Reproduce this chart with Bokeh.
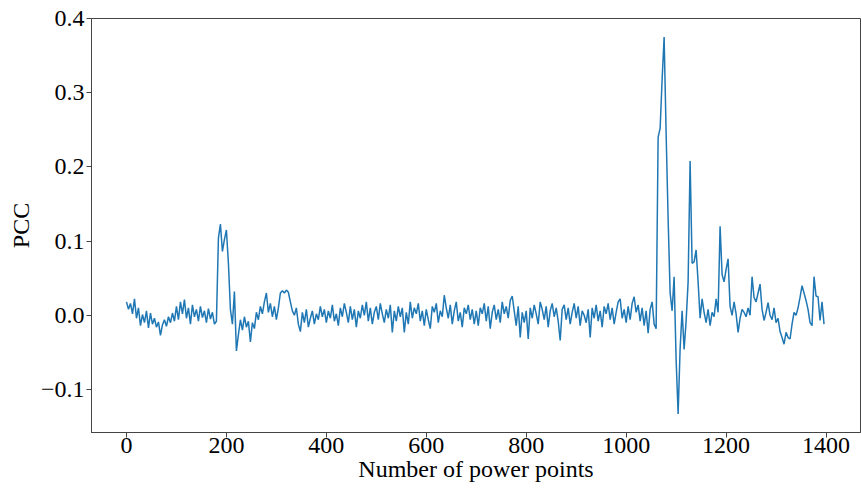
from bokeh.plotting import figure
from bokeh.models import Range1d, FixedTicker
from bokeh.embed import file_html
from bokeh.resources import INLINE

# Sample index of each PCC value (every 4th power point)
power_points = list(range(0, 1400, 4))

# PCC values (one row = 100 power points)
pcc = [
    0.018, 0.008, 0.016, 0.002, 0.022, -0.004, 0.010, -0.014, 0.001, -0.010, 0.006, -0.017, 0.003, -0.012, -0.004, -0.016, -0.009, -0.027, -0.013, -0.006, -0.015, -0.002, -0.010, 0.003, -0.008,
    0.012, -0.006, 0.018, 0.002, 0.021, -0.004, 0.010, -0.012, 0.014, -0.002, 0.008, -0.008, 0.012, -0.003, 0.006, -0.010, 0.009, -0.005, 0.004, -0.012, -0.008, 0.104, 0.123, 0.086, 0.102,
    0.115, 0.070, 0.008, -0.012, 0.032, -0.048, -0.026, -0.006, -0.020, -0.002, -0.016, -0.008, -0.036, -0.010, -0.018, 0.004, -0.006, 0.012, 0.002, 0.018, 0.030, 0.004, 0.016, -0.002, 0.012,
    -0.006, 0.010, 0.030, 0.033, 0.030, 0.034, 0.031, 0.018, 0.006, 0.000, 0.010, -0.012, -0.022, 0.004, -0.010, 0.008, -0.016, -0.004, 0.006, -0.012, 0.002, -0.006, 0.012, -0.002, 0.008,
    -0.010, 0.006, -0.004, 0.014, -0.008, 0.002, -0.014, 0.010, -0.002, 0.016, 0.004, -0.010, 0.012, -0.006, 0.008, -0.016, 0.006, -0.004, 0.014, 0.000, 0.018, -0.008, 0.010, -0.012, 0.004,
    0.012, -0.006, 0.016, 0.002, -0.010, 0.008, -0.004, 0.014, -0.023, 0.006, -0.008, 0.012, -0.002, 0.010, -0.023, 0.004, -0.012, 0.018, -0.004, 0.010, 0.002, 0.016, -0.008, 0.006, -0.014,
    0.008, -0.006, -0.018, 0.012, 0.004, 0.016, -0.010, 0.006, -0.002, 0.027, 0.010, -0.004, 0.014, -0.012, 0.006, 0.018, -0.008, 0.004, -0.016, 0.010, 0.002, 0.014, -0.006, 0.008, -0.012,
    0.006, -0.014, 0.010, 0.002, 0.016, -0.008, 0.012, -0.018, 0.004, 0.014, -0.006, 0.008, -0.010, 0.018, 0.002, 0.012, -0.004, 0.020, 0.026, 0.006, -0.014, 0.012, -0.030, 0.004, -0.010,
    0.006, -0.032, 0.010, -0.004, 0.014, 0.002, -0.012, 0.018, 0.008, -0.006, 0.012, -0.016, 0.006, 0.016, -0.002, 0.010, -0.008, -0.034, 0.008, 0.014, -0.006, 0.010, -0.012, 0.004, 0.016,
    -0.004, 0.012, -0.014, 0.006, 0.000, -0.010, 0.008, -0.030, 0.010, -0.004, 0.014, -0.008, 0.006, -0.016, 0.012, 0.002, 0.016, -0.006, 0.010, -0.012, 0.004, 0.018, 0.022, -0.004, 0.008,
    -0.010, 0.012, -0.006, 0.016, 0.025, 0.004, 0.014, -0.008, 0.010, -0.014, 0.006, -0.024, 0.008, 0.018, -0.012, -0.018, 0.240, 0.252, 0.318, 0.375, 0.245, 0.130, 0.030, 0.006, 0.052,
    -0.060, -0.133, -0.045, 0.006, -0.046, -0.008, 0.045, 0.208, 0.070, 0.072, 0.088, 0.045, -0.004, 0.022, 0.004, -0.010, 0.008, -0.014, 0.004, -0.002, 0.022, 0.004, 0.120, 0.055, 0.045,
    0.062, 0.076, 0.012, 0.000, 0.018, 0.002, -0.023, -0.004, 0.008, 0.004, -0.002, 0.010, 0.000, 0.052, 0.024, 0.018, 0.030, 0.042, 0.008, -0.007, 0.004, 0.017, 0.000, -0.006, 0.010,
    -0.010, -0.004, -0.022, -0.030, -0.039, -0.023, -0.030, -0.032, -0.012, 0.004, 0.000, 0.010, 0.024, 0.040, 0.030, 0.020, 0.008, -0.010, -0.014, 0.052, 0.026, 0.025, -0.007, 0.018, -0.012,
]

x_ticks = [0, 200, 400, 600, 800, 1000, 1200, 1400]
y_ticks = [-0.1, 0.0, 0.1, 0.2, 0.3, 0.4]
y_tick_labels = ["\u22120.1", "0.0", "0.1", "0.2", "0.3", "0.4"]

FONT = "Liberation Serif"

p = figure(width=861, height=488, output_backend="svg", toolbar_location=None,
           x_range=Range1d(-70, 1469), y_range=Range1d(-0.158, 0.4),
           min_border_left=91, min_border_right=1, min_border_top=18, min_border_bottom=56)

p.line(power_points, pcc, line_color="#1f77b4", line_width=1.5)

p.grid.visible = False
p.outline_line_color = "#444444"
p.outline_line_width = 1

p.xaxis.ticker = FixedTicker(ticks=x_ticks)
p.yaxis.ticker = FixedTicker(ticks=y_ticks)
p.yaxis.major_label_overrides = {t: s for t, s in zip(y_ticks, y_tick_labels)}

for ax in (p.xaxis[0], p.yaxis[0]):
    ax.minor_tick_line_color = None
    ax.major_tick_in = 0
    ax.major_tick_out = 5
    ax.major_tick_line_color = "#444444"
    ax.axis_line_color = "#444444"
    ax.major_label_text_font = FONT
    ax.major_label_text_font_size = "24px"
    ax.major_label_text_color = "#000000"
    ax.axis_label_text_font = FONT
    ax.axis_label_text_font_size = "24px"
    ax.axis_label_text_font_style = "normal"
    ax.axis_label_text_color = "#000000"

p.xaxis.axis_label = "Number of power points"
p.yaxis.axis_label = "PCC"
p.xaxis.major_label_standoff = 0
p.xaxis.axis_label_standoff = 0
p.yaxis.major_label_standoff = 2
p.yaxis.axis_label_standoff = 4

open("out.html", "w").write(file_html(p, INLINE))
